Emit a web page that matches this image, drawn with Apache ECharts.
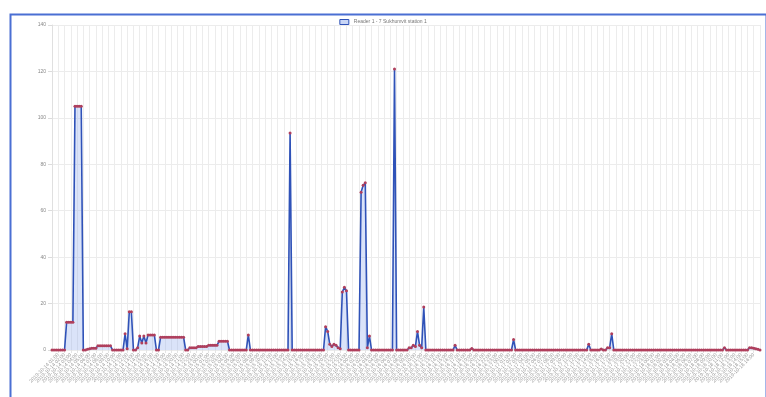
<!DOCTYPE html>
<html>
<head>
<meta charset="utf-8">
<script src="https://cdn.jsdelivr.net/npm/echarts@6/dist/echarts.min.js"></script>
<style>
  html, body { margin: 0; padding: 0; background: #fff; }
  #chart { width: 766px; height: 397px; }
</style>
</head>
<body>
<div id="chart"></div>
<script>
const seriesName = 'Reader 1 - 7 Sukhumvit station 1'

// one label per 3 readings
const tickLabels = [
  '2019-10-14 00:00', '2019-10-14 01:00', '2019-10-14 02:00', '2019-10-14 03:00', '2019-10-14 04:00', '2019-10-14 05:00',
  '2019-10-14 06:00', '2019-10-14 07:00', '2019-10-14 08:00', '2019-10-14 09:00', '2019-10-14 10:00', '2019-10-14 11:00',
  '2019-10-14 12:00', '2019-10-14 13:00', '2019-10-14 14:00', '2019-10-14 15:00', '2019-10-14 16:00', '2019-10-14 17:00',
  '2019-10-14 18:00', '2019-10-14 19:00', '2019-10-14 20:00', '2019-10-14 21:00', '2019-10-14 22:00', '2019-10-14 23:00',
  '2019-10-15 00:00', '2019-10-15 01:00', '2019-10-15 02:00', '2019-10-15 03:00', '2019-10-15 04:00', '2019-10-15 05:00',
  '2019-10-15 06:00', '2019-10-15 07:00', '2019-10-15 08:00', '2019-10-15 09:00', '2019-10-15 10:00', '2019-10-15 11:00',
  '2019-10-15 12:00', '2019-10-15 13:00', '2019-10-15 14:00', '2019-10-15 15:00', '2019-10-15 16:00', '2019-10-15 17:00',
  '2019-10-15 18:00', '2019-10-15 19:00', '2019-10-15 20:00', '2019-10-15 21:00', '2019-10-15 22:00', '2019-10-15 23:00',
  '2019-10-16 00:00', '2019-10-16 01:00', '2019-10-16 02:00', '2019-10-16 03:00', '2019-10-16 04:00', '2019-10-16 05:00',
  '2019-10-16 06:00', '2019-10-16 07:00', '2019-10-16 08:00', '2019-10-16 09:00', '2019-10-16 10:00', '2019-10-16 11:00',
  '2019-10-16 12:00', '2019-10-16 13:00', '2019-10-16 14:00', '2019-10-16 15:00', '2019-10-16 16:00', '2019-10-16 17:00',
  '2019-10-16 18:00', '2019-10-16 19:00', '2019-10-16 20:00', '2019-10-16 21:00', '2019-10-16 22:00', '2019-10-16 23:00',
  '2019-10-17 00:00', '2019-10-17 01:00', '2019-10-17 02:00', '2019-10-17 03:00', '2019-10-17 04:00', '2019-10-17 05:00',
  '2019-10-17 06:00', '2019-10-17 07:00', '2019-10-17 08:00', '2019-10-17 09:00', '2019-10-17 10:00', '2019-10-17 11:00',
  '2019-10-17 12:00', '2019-10-17 13:00', '2019-10-17 14:00', '2019-10-17 15:00', '2019-10-17 16:00', '2019-10-17 17:00',
  '2019-10-17 18:00', '2019-10-17 19:00', '2019-10-17 20:00', '2019-10-17 21:00', '2019-10-17 22:00', '2019-10-17 23:00',
  '2019-10-18 00:00', '2019-10-18 01:00', '2019-10-18 02:00', '2019-10-18 03:00', '2019-10-18 04:00', '2019-10-18 05:00',
  '2019-10-18 06:00', '2019-10-18 07:00', '2019-10-18 08:00', '2019-10-18 09:00', '2019-10-18 10:00', '2019-10-18 11:00',
  '2019-10-18 12:00', '2019-10-18 13:00', '2019-10-18 14:00', '2019-10-18 15:00', '2019-10-18 16:00', '2019-10-18 17:00'
]

// readings, 20 per row
const readings = [
  0, 0, 0, 0, 0, 0, 0, 12, 12, 12, 12, 105, 105, 105, 105, 0, 0, 0.3, 0.5, 0.8,
  0.8, 0.8, 1.8, 1.8, 1.8, 1.8, 1.8, 1.8, 1.8, 0, 0, 0, 0, 0, 0, 7, 0.5, 16.5, 16.5, 0,
  0, 1, 6, 3, 6, 3, 6.5, 6.5, 6.5, 6.5, 0, 0, 5.5, 5.5, 5.5, 5.5, 5.5, 5.5, 5.5, 5.5,
  5.5, 5.5, 5.5, 5.5, 0, 0, 1, 1, 1, 1, 1.5, 1.5, 1.5, 1.5, 1.5, 2, 2, 2, 2, 2,
  3.8, 3.8, 3.8, 3.8, 3.8, 0, 0, 0, 0, 0, 0, 0, 0, 0, 6.5, 0, 0, 0, 0, 0,
  0, 0, 0, 0, 0, 0, 0, 0, 0, 0, 0, 0, 0, 0, 93.5, 0, 0, 0, 0, 0,
  0, 0, 0, 0, 0, 0, 0, 0, 0, 0, 0, 10, 8, 2.5, 1.5, 2.5, 2, 1, 0.5, 25,
  27, 25.5, 0, 0, 0, 0, 0, 0, 68, 71, 72, 1, 6, 0, 0, 0, 0, 0, 0, 0,
  0, 0, 0, 0, 121, 0, 0, 0, 0, 0, 0, 1, 1, 2, 1.5, 8, 2, 1, 18.5, 0,
  0, 0, 0, 0, 0, 0, 0, 0, 0, 0, 0, 0, 0, 2, 0, 0, 0, 0, 0, 0,
  0, 0.7, 0, 0, 0, 0, 0, 0, 0, 0, 0, 0, 0, 0, 0, 0, 0, 0, 0, 0,
  0, 4.5, 0, 0, 0, 0, 0, 0, 0, 0, 0, 0, 0, 0, 0, 0, 0, 0, 0, 0,
  0, 0, 0, 0, 0, 0, 0, 0, 0, 0, 0, 0, 0, 0, 0, 0, 0, 2.5, 0, 0,
  0, 0, 0, 0.4, 0, 0, 1, 1, 7, 0, 0, 0, 0, 0, 0, 0, 0, 0, 0, 0,
  0, 0, 0, 0, 0, 0, 0, 0, 0, 0, 0, 0, 0, 0, 0, 0, 0, 0, 0, 0,
  0, 0, 0, 0, 0, 0, 0, 0, 0, 0, 0, 0, 0, 0, 0, 0, 0, 0, 0, 0,
  0, 0, 1, 0, 0, 0, 0, 0, 0, 0, 0, 0, 0, 0, 1, 1, 0.8, 0.5, 0.3, 0
]

const perLabel = 3

const chart = echarts.init(document.getElementById('chart'))
chart.setOption({
  animation: false,
  textStyle: { fontFamily: 'Liberation Sans, Arial, sans-serif' },
  graphic: [{
    type: 'rect',
    left: 8, top: 12,
    shape: { width: 756, height: 392 },
    style: { fill: 'none', stroke: '#4a6fd3', lineWidth: 2 },
    z: 100
  }],
  legend: {
    top: 14,
    left: 'center',
    icon: 'rect',
    itemWidth: 9,
    itemHeight: 5,
    itemGap: 3,
    textStyle: { fontSize: 5, color: '#777' },
    itemStyle: { color: '#c9d6f6', borderColor: '#2f52b8', borderWidth: 1 },
    data: [seriesName]
  },
  grid: { left: 52, right: 6, top: 25, bottom: 47 },
  xAxis: {
    type: 'value',
    min: 0,
    max: readings.length - 1,
    interval: perLabel,
    axisLine: { show: false },
    axisTick: { show: true, length: 3, lineStyle: { color: '#e4e4e4' } },
    axisLabel: {
      rotate: 45,
      fontSize: 5,
      color: '#999',
      margin: 4,
      formatter: v => tickLabels[Math.round(v / perLabel)] || ''
    },
    splitLine: { show: true, lineStyle: { color: '#ececec', width: 1 } }
  },
  yAxis: {
    type: 'value',
    min: 0,
    max: 140,
    interval: 20,
    axisLine: { show: true, lineStyle: { color: '#e0e0e0' } },
    axisTick: { show: true, length: 4, lineStyle: { color: '#dcdcdc' } },
    axisLabel: { fontSize: 5, color: '#888', margin: 6 },
    splitLine: { show: true, lineStyle: { color: '#ececec' } }
  },
  series: [{
    name: seriesName,
    type: 'line',
    data: readings.map((v, i) => [i, v]),
    showAllSymbol: true,
    symbol: 'circle',
    symbolSize: 3,
    itemStyle: { color: '#b03f5c' },
    lineStyle: { color: '#2f52b8', width: 1.6 },
    areaStyle: { color: 'rgba(140,168,236,0.45)' }
  }]
})
</script>
</body>
</html>
